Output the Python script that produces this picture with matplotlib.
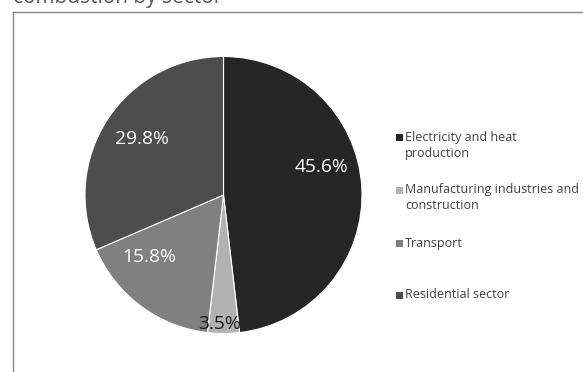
import matplotlib
matplotlib.use("Agg")
import matplotlib.pyplot as plt
from matplotlib.lines import Line2D
from matplotlib.patches import Rectangle

plt.rcParams['font.family'] = ['Open Sans', 'DejaVu Sans']

# data
sectors = ["Electricity and heat\nproduction",
           "Manufacturing industries and\nconstruction",
           "Transport",
           "Residential sector"]
shares = [45.6, 3.5, 15.8, 29.8]
share_labels = ["45.6%", "3.5%", "15.8%", "29.8%"]
colors = ["#262626", "#b2b2b2", "#808080", "#4d4d4d"]
label_colors = ["white", "#1a1a1a", "white", "white"]

W, H = 583, 372
fig = plt.figure(figsize=(W / 100, H / 100), dpi=100)

# pie placed by pixel geometry
cx, cy, r = 223.5, 195, 138.5
ax = fig.add_axes([(cx - r) / W, (H - cy - r) / H, 2 * r / W, 2 * r / H])
wedges, _ = ax.pie(shares, colors=colors, startangle=90, counterclock=False,
                   radius=1, wedgeprops=dict(edgecolor="white", linewidth=0.8))
ax.set_xlim(-1, 1)
ax.set_ylim(-1, 1)
ax.axis("off")

# label offsets (in radius units), roughly where the reference puts them
label_pos = [(0.708, 0.202), (-0.029, -0.934), (-0.535, -0.445), (-0.589, 0.404)]
for txt, (lx, ly), c in zip(share_labels, label_pos, label_colors):
    ax.text(lx, ly, txt, ha="center", va="center", fontsize=13.8, color=c)

# legend drawn by hand, square next to the first line
leg_y = [137, 190, 243, 295]
for lab, y, c in zip(sectors, leg_y, colors):
    fig.add_artist(Rectangle((396 / W, 1 - (y + 3.5) / H), 6.5 / W, 6.5 / H,
                             transform=fig.transFigure, facecolor=c, edgecolor="none"))
    for j, line in enumerate(lab.split("\n")):
        fig.text(405 / W, 1 - (y + j * 16) / H, line, ha="left", va="center",
                 fontsize=9, color="#404040")

# chart frame (cut off on the right and bottom)
fig.add_artist(Line2D([12.5 / W, 12.5 / W], [0, 1 - 11.5 / H], transform=fig.transFigure,
                      color="#868686", linewidth=1.0))
fig.add_artist(Line2D([12.5 / W, 1], [1 - 11.5 / H, 1 - 11.5 / H], transform=fig.transFigure,
                      color="#868686", linewidth=1.0))

# title, mostly cut off at the top (as in the reference)
fig.text(13 / W, 1 - 3 / H, "combustion by sector", ha="left", va="baseline",
         fontsize=15, color="#595959")

fig.savefig("out.png", dpi=100)
